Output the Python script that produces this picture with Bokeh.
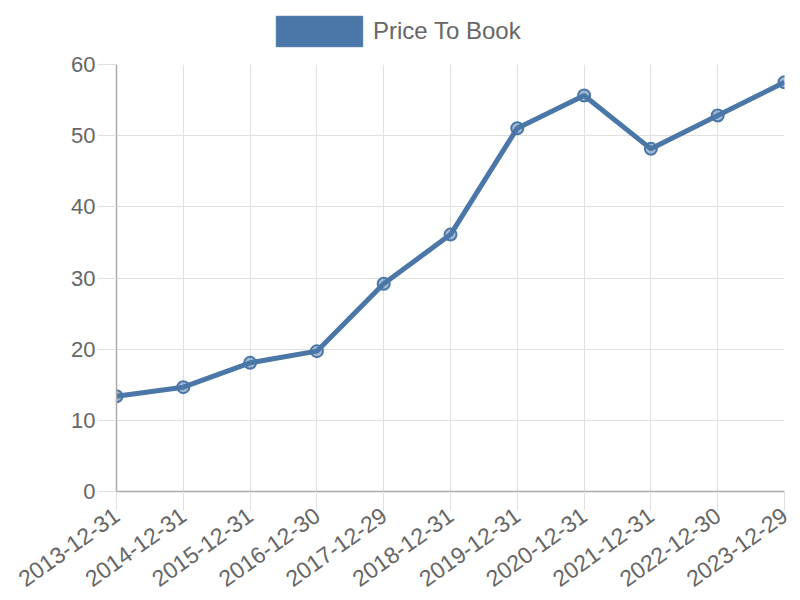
from bokeh.plotting import figure
from bokeh.layouts import column
from bokeh.models import Range1d, FixedTicker, Legend, LegendItem, ColumnDataSource
from bokeh.embed import file_html
from bokeh.resources import INLINE

dates = ["2013-12-31", "2014-12-31", "2015-12-31", "2016-12-30", "2017-12-29",
         "2018-12-31", "2019-12-31", "2020-12-31", "2021-12-31", "2022-12-30", "2023-12-29"]
price_to_book = [13.39, 14.66, 18.08, 19.72, 29.2, 36.1, 51.05, 55.64, 48.15, 52.83, 57.51]
series_name = "Price To Book"
y_ticks = [0, 10, 20, 30, 40, 50, 60]

color = "#4a77a8"
font = "Liberation Sans"

xs = list(range(len(dates)))
src = ColumnDataSource(dict(x=xs, y=price_to_book))

# legend strip on top (its frame is aligned with the main plot frame)
lg = figure(width=800, height=50, output_backend="svg", toolbar_location=None,
            x_axis_location=None, y_axis_location=None,
            x_range=Range1d(0, 1), y_range=Range1d(0, 1),
            min_border_left=116, min_border_right=16, min_border_top=0, min_border_bottom=0)
lg.outline_line_color = None
lg.grid.visible = False
# swatch renderer kept outside the visible range; only its legend glyph shows
dummy = lg.quad(left=[5], right=[6], top=[5], bottom=[6], fill_color=color, line_color=color)
legend = Legend(items=[LegendItem(label=series_name, renderers=[dummy])],
                location=(149, 0), orientation="horizontal",
                glyph_width=108, glyph_height=38, label_standoff=-2,
                label_text_font=font, label_text_font_size="24px",
                label_text_color="#666666", padding=0, margin=0,
                border_line_color=None, background_fill_alpha=0)
lg.add_layout(legend, "center")

p = figure(width=800, height=550, output_backend="svg", toolbar_location=None,
           x_range=Range1d(0, len(dates) - 1), y_range=Range1d(0, 60),
           min_border_left=116, min_border_right=16, min_border_top=14, min_border_bottom=109)
p.outline_line_color = None

p.line("x", "y", source=src, line_color=color, line_width=5)
p.scatter("x", "y", source=src, size=12, line_color=color, line_width=2,
          fill_color=color, fill_alpha=0.5)

p.xaxis.ticker = FixedTicker(ticks=xs)
p.xaxis.major_label_overrides = {i: d for i, d in enumerate(dates)}
p.xaxis.major_label_orientation = 0.62
p.yaxis.ticker = FixedTicker(ticks=y_ticks)

for ax in (p.xaxis, p.yaxis):
    ax.axis_line_color = "#aaaaaa"
    ax.axis_line_width = 1.5
    ax.major_tick_line_color = "#e0e0e0"
    ax.major_tick_out = 19
    ax.major_tick_in = 0
    ax.minor_tick_line_color = None
    ax.major_label_text_font = font
    ax.major_label_text_font_size = "22px"
    ax.major_label_text_color = "#666666"
p.xaxis.major_label_text_font_size = "23px"
p.yaxis.major_label_standoff = 2
p.xaxis.major_label_standoff = 2

p.xgrid.ticker = FixedTicker(ticks=xs)
p.ygrid.ticker = FixedTicker(ticks=y_ticks)
p.grid.grid_line_color = "#e0e0e0"
p.grid.grid_line_width = 1

layout = column(lg, p, spacing=0)
open("out.html", "w").write(file_html(layout, INLINE))
